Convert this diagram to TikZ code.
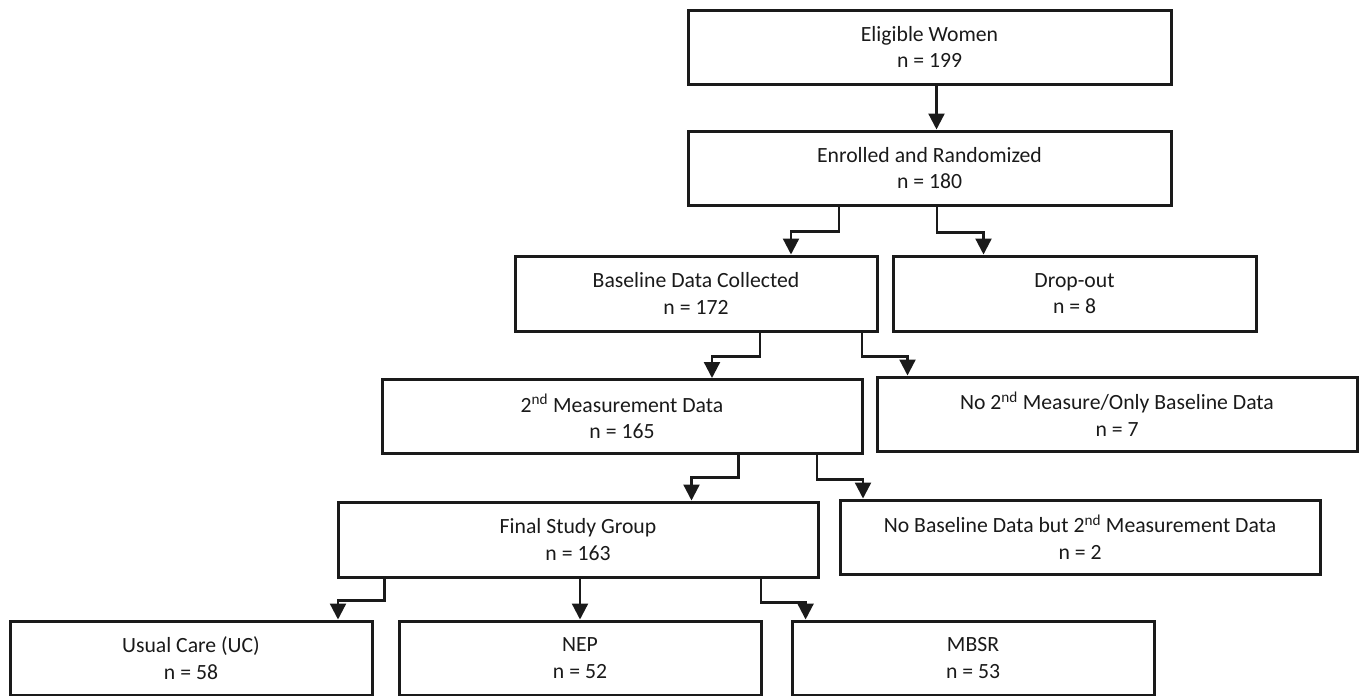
\documentclass[tikz,border=0pt]{standalone}
\usepackage{fontspec}
\setmainfont{Carlito}
\usetikzlibrary{arrows.meta,calc}
\definecolor{linec}{HTML}{1A1A1A}
\begin{document}
\begin{tikzpicture}[x=1pt,y=-1pt,
  box/.style={draw=linec, line width=3pt, rectangle, inner sep=0pt, align=center,
    font=\fontsize{21.7}{26.5}\selectfont, text=linec, minimum height=74pt},
  arr/.style={draw=linec, line width=2.3pt, -{Triangle[length=16pt,width=16pt]}}]
\useasboundingbox (0,0) rectangle (1360,696);
\fill[white] (0,0) rectangle (1360,696);
\node[box, minimum width=483pt] (E) at (929.5,47) {Eligible Women\\n = 199};
\node[box, minimum width=483pt] (R) at (929.5,168) {Enrolled and Randomized\\n = 180};
\node[box, minimum width=362pt, minimum height=75pt] (B) at (696,293.5) {Baseline Data Collected\\n = 172};
\node[box, minimum width=363pt, minimum height=75pt] (D) at (1074.5,293.5) {Drop-out\\n = 8};
\node[box, minimum width=480pt] (M) at (622,416.5) {2\textsuperscript{nd} Measurement Data\\n = 165};
\node[box, minimum width=480pt] (N) at (1117,414) {No 2\textsuperscript{nd} Measure/Only Baseline Data\\n = 7};
\node[box, minimum width=480pt, minimum height=75pt] (F) at (578,539.5) {Final Study Group\\n = 163};
\node[box, minimum width=480pt] (O) at (1080,537) {No Baseline Data but 2\textsuperscript{nd} Measurement Data\\n = 2};
\node[box, minimum width=362pt] (U) at (191,658) {Usual Care (UC)\\n = 58};
\node[box, minimum width=362pt] (P) at (580,658) {NEP\\n = 52};
\node[box, minimum width=362pt] (S) at (973,658) {MBSR\\n = 53};
\draw[arr] ([xshift=7pt]E.south) -- ([xshift=7pt]R.north);
\draw[arr] ([xshift=-90.5pt]R.south) -- ++(0,25) -| ([xshift=95pt]B.north);
\draw[arr] ([xshift=7.5pt]R.south) -- ++(0,26) -| ([xshift=-91pt]D.north);
\draw[arr] ([xshift=64pt]B.south) -- ++(0,24) -| ([xshift=90pt]M.north);
\draw[arr] ([xshift=166pt]B.south) -- ++(0,24) -| ([xshift=-209.5pt]N.north);
\draw[arr] ([xshift=116.5pt]M.south) -- ++(0,22.5) -| ([xshift=113.5pt]F.north);
\draw[arr] ([xshift=195pt]M.south) -- ++(0,24.5) -| ([xshift=-217pt]O.north);
\draw[arr] ([xshift=-193.5pt]F.south) -- ++(0,22) -| ([xshift=147pt]U.north);
\draw[arr] ([xshift=2pt]F.south) -- ([xshift=0pt]P.north);
\draw[arr] ([xshift=183pt]F.south) -- ++(0,24) -| ([xshift=-167.4pt]S.north);
\end{tikzpicture}
\end{document}
